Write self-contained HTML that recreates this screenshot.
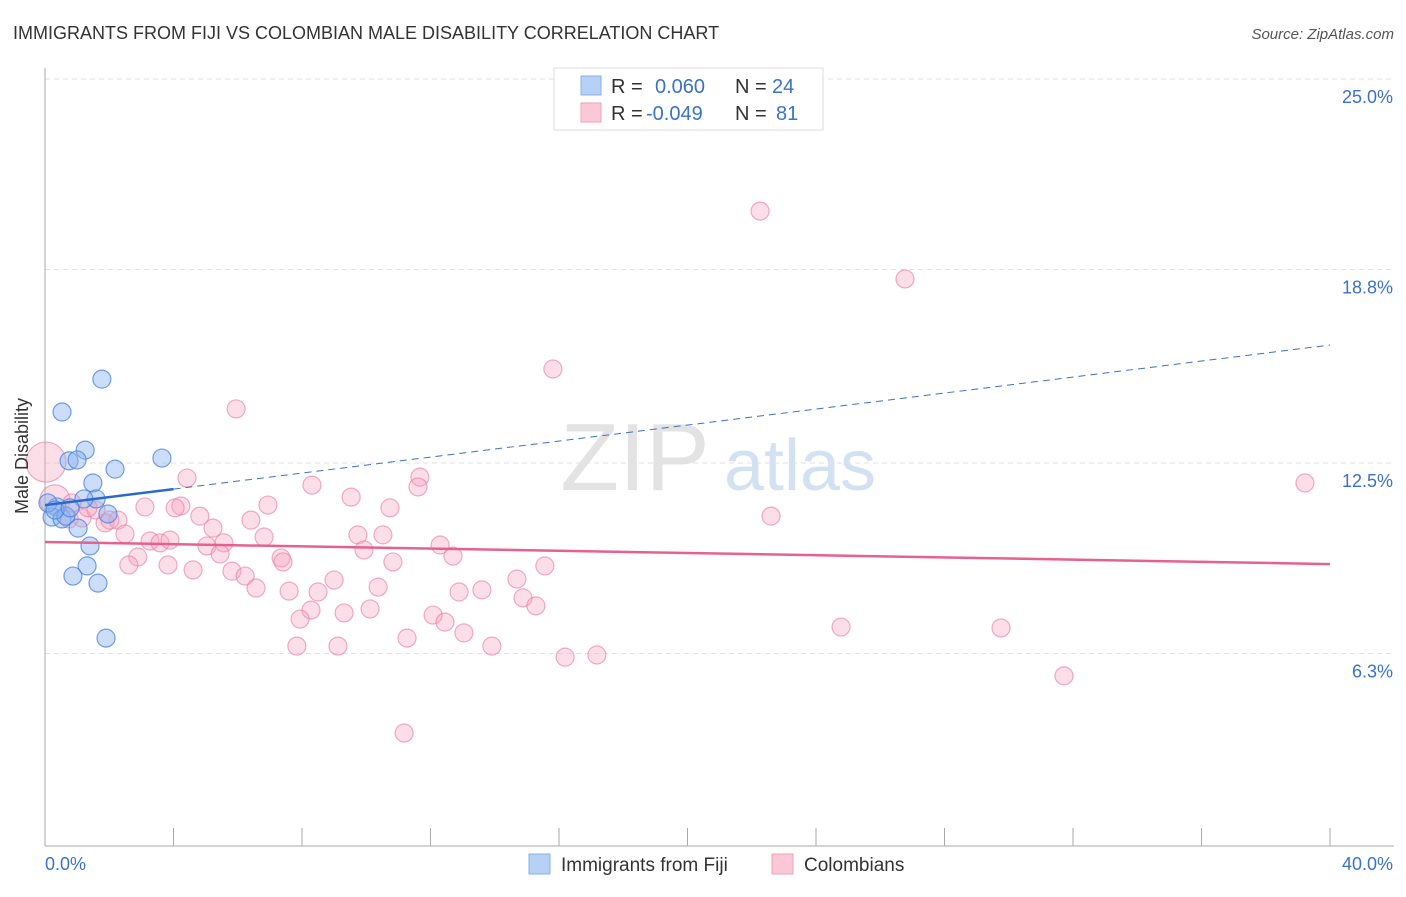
<!DOCTYPE html>
<html><head><meta charset="utf-8">
<style>
body{margin:0;background:#fff;font-family:"Liberation Sans",sans-serif;}
svg text{font-family:"Liberation Sans",sans-serif;}
</style></head>
<body>
<svg id="chart" width="1406" height="892" xmlns="http://www.w3.org/2000/svg">
<text x="13" y="39" font-size="18" fill="#333">IMMIGRANTS FROM FIJI VS COLOMBIAN MALE DISABILITY CORRELATION CHART</text>
<text x="1394" y="39" font-size="15" fill="#555" text-anchor="end" font-style="italic">Source: ZipAtlas.com</text>
<g>
<text x="635" y="490" font-size="96" fill="#ddd" font-family="Liberation Serif" text-anchor="middle" opacity="0.8">ZIP</text>
<text x="800" y="490" font-size="72" fill="#c9dcf0" text-anchor="middle" opacity="0.8">atlas</text>
</g>
<g id="grid"></g>
<g id="axes"></g>
<g id="marks"></g>
<text transform="translate(28,456) rotate(-90)" font-size="18" fill="#333" text-anchor="middle">Male Disability</text>
<g>
<rect x="554" y="68" width="269" height="62" fill="#fff" stroke="#ddd"/>
<rect x="581" y="76" width="20" height="19" fill="#b7d0f5" stroke="#8ab0e8"/>
<rect x="581" y="103" width="20" height="19" fill="#fbc8d7" stroke="#f0a0b8"/>
<text x="611" y="93" font-size="20" fill="#333">R =</text>
<text x="655" y="93" font-size="20" fill="#3a72c8">0.060</text>
<text x="735" y="93" font-size="20" fill="#333">N =</text>
<text x="772" y="93" font-size="20" fill="#3a72c8">24</text>
<text x="611" y="120" font-size="20" fill="#333">R =</text>
<text x="646" y="120" font-size="20" fill="#3a72c8">-0.049</text>
<text x="735" y="120" font-size="20" fill="#333">N =</text>
<text x="776" y="120" font-size="20" fill="#3a72c8">81</text>
</g>
<g>
<rect x="529" y="854" width="21" height="20" fill="#b7d0f5" stroke="#8ab0e8"/>
<text x="561" y="871" font-size="19" fill="#333">Immigrants from Fiji</text>
<rect x="772" y="854" width="21" height="20" fill="#fbc8d7" stroke="#f0a0b8"/>
<text x="804" y="871" font-size="19" fill="#333">Colombians</text>
</g>
</svg>
<script>
const fijiX=[1.77,0.53,1.25,0.75,1.00,2.18,3.64,1.49,1.59,1.21,0.37,0.22,0.53,0.65,1.96,1.03,1.40,1.31,0.87,1.65,1.90,0.09,0.31,0.78];
const fijiY=[15.23,14.16,12.92,12.57,12.60,12.30,12.66,11.85,11.33,11.33,11.07,10.74,10.68,10.77,10.84,10.38,9.80,9.15,8.82,8.59,6.80,11.20,10.97,11.04];
const colX=[0.03,0.31,22.26,26.77,15.81,5.95,39.22,4.42,8.31,11.67,11.61,9.53,6.94,10.74,4.23,3.11,4.05,4.82,6.41,22.60,1.87,2.27,0.75,1.15,1.59,2.49,5.23,6.82,9.74,10.52,3.27,3.58,5.57,5.04,12.30,9.93,12.70,5.45,2.89,7.35,7.41,10.83,2.61,3.83,15.56,4.61,5.82,6.23,9.00,14.69,10.37,6.57,7.60,8.50,12.89,13.60,14.88,15.28,8.28,10.12,9.31,12.08,12.45,7.94,24.78,29.76,13.04,11.27,7.84,9.12,13.91,16.19,17.18,31.72,11.18,2.02,3.89,1.34,0.84];
const colY=[12.53,11.30,20.70,18.49,15.56,14.26,11.85,12.01,11.78,12.04,11.72,11.39,11.13,11.04,11.10,11.07,11.04,10.77,10.64,10.77,10.55,10.64,10.68,10.71,10.97,10.19,10.38,10.09,10.16,10.16,9.96,9.90,9.90,9.80,9.83,9.67,9.47,9.54,9.44,9.41,9.28,9.28,9.18,9.18,9.15,9.02,8.98,8.82,8.69,8.72,8.46,8.43,8.33,8.30,8.30,8.37,8.11,7.85,7.71,7.75,7.62,7.55,7.32,7.42,7.16,7.13,6.97,6.80,6.54,6.54,6.54,6.18,6.25,5.57,3.71,10.64,9.99,11.04,11.20];
const colR=[20,15];
const fijiTrend=[11.13,16.34];
const colTrend=[9.93,9.21];
const yTicks=[6.3,12.5,18.8,25.0];
const yTickLabels=["6.3%","12.5%","18.8%","25.0%"];
const xEnds=["0.0%","40.0%"];
const NS="http://www.w3.org/2000/svg";
const X=v=>45+v/40*1285;
const Y=v=>463-(v-12.5)*30.72;
function mk(tag,attrs,parent){const e=document.createElementNS(NS,tag);for(const k in attrs)e.setAttribute(k,attrs[k]);parent.appendChild(e);return e;}
const grid=document.getElementById('grid'),axes=document.getElementById('axes'),marks=document.getElementById('marks');
yTicks.forEach((t,i)=>{
 const l=mk('line',{x1:45,x2:1394,y1:Y(t),y2:Y(t),stroke:'#e2e2e2','stroke-dasharray':'5,4'},grid);
 
 
 const tx=mk('text',{x:1393,y:Y(t)+24,'font-size':18,fill:'#3a72c8','text-anchor':'end'},axes);
 tx.textContent=yTickLabels[i];
 
 
});
const ya=mk('line',{x1:45,x2:45,y1:68,y2:846,stroke:'#aaa'},axes);


const xa=mk('line',{x1:45,x2:1394,y1:846,y2:846,stroke:'#aaa'},axes);


for(let i=0;i<=10;i++){
 const t=mk('line',{x1:X(i*4),x2:X(i*4),y1:828,y2:846,stroke:'#aaa'},axes);
 
 
}
const xl0=mk('text',{x:45,y:870,'font-size':18,fill:'#3a72c8'},axes);xl0.textContent=xEnds[0];


const xl1=mk('text',{x:1393,y:870,'font-size':18,fill:'#3a72c8','text-anchor':'end'},axes);xl1.textContent=xEnds[1];


colX.forEach((x,i)=>{
 const c=mk('circle',{cx:X(x),cy:Y(colY[i]),r:colR[i]||9,fill:'rgba(246,160,188,0.35)',stroke:'rgba(232,120,158,0.6)','stroke-width':1.2},marks);
 
 
});
fijiX.forEach((x,i)=>{
 const c=mk('circle',{cx:X(x),cy:Y(fijiY[i]),r:9,fill:'rgba(140,180,240,0.45)',stroke:'rgba(70,130,220,0.75)','stroke-width':1.2},marks);
 
 
});
const fy=x=>fijiTrend[0]+(fijiTrend[1]-fijiTrend[0])*x/40;
const fd=mk('line',{x1:X(4),y1:Y(fy(4)),x2:X(40),y2:Y(fy(40)),stroke:'#3a72c8','stroke-width':1,'stroke-dasharray':'7,5'},marks);


const fs=mk('line',{x1:X(0),y1:Y(fy(0)),x2:X(4),y2:Y(fy(4)),stroke:'#2a6ad0','stroke-width':2.5},marks);


const ct=mk('line',{x1:X(0),y1:Y(colTrend[0]),x2:X(40),y2:Y(colTrend[1]),stroke:'#e8608e','stroke-width':2.5},marks);


</script>
</body></html>
